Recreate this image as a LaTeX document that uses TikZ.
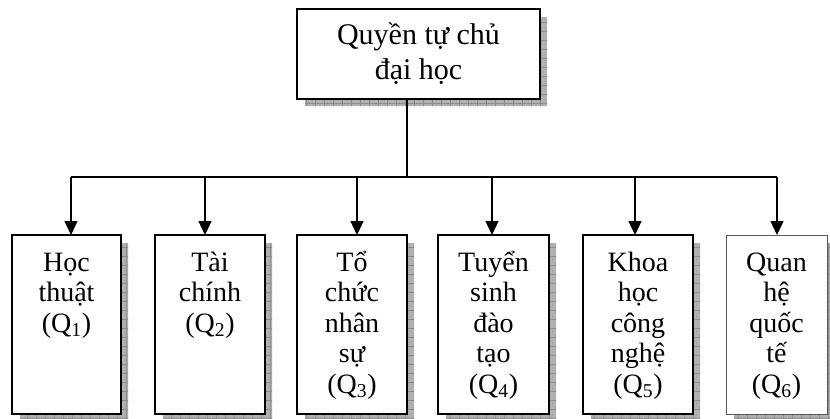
\documentclass[tikz,border=0pt]{standalone}
\usepackage{fontspec}
\setmainfont{Liberation Serif}
\usetikzlibrary{arrows.meta,backgrounds,patterns.meta}
\newcommand{\cellbox}[2]{\parbox[c][179pt][t]{#1}{\centering\fontsize{28}{30.5}\selectfont\rule{0pt}{36pt}#2}}
\tikzset{
  boxstyle/.style={draw=black, line width=1.5pt, fill=white, inner sep=0pt, outer sep=0pt},
  thinbox/.style={draw=black!65, line width=0.9pt, fill=white, inner sep=0pt, outer sep=0pt},
  conn/.style={line width=1.3pt, black},
  arr/.style={conn, -{Triangle[width=13pt,length=14pt]}},
  shadowfill/.style={fill=gray!62},
  shadowgrid/.style={pattern={Hatch[distance=9pt,line width=0.5pt]}, pattern color=gray!90}
}
\newcommand{\shadowpath}[1]{([shift={(0,8)}]#1.north east) -- ([shift={(7,8)}]#1.north east)
     -- ([shift={(7,7)}]#1.south east) -- ([shift={(8,7)}]#1.south west)
     -- ([shift={(8,0)}]#1.south west) -- (#1.south east) -- cycle}
\newcommand{\shadowof}[1]{%
  \fill[shadowfill] \shadowpath{#1};
  \fill[shadowgrid] \shadowpath{#1};}
\begin{document}
\begin{tikzpicture}[x=1pt,y=-1pt]
\useasboundingbox (0,0) rectangle (830,418);
% top box
\node[boxstyle, minimum width=243pt, minimum height=90pt, align=center,
      font=\fontsize{30}{35}\selectfont] (top) at (418.5,54) {Quyền tự chủ\\đại học};
% bottom boxes
\node[boxstyle, anchor=north] (b1) at (66.5,235) {\cellbox{109pt}{Học\\thuật\\(Q\textsubscript{1})}};
\node[boxstyle, anchor=north] (b2) at (210,235) {\cellbox{110pt}{Tài\\chính\\(Q\textsubscript{2})}};
\node[boxstyle, anchor=north] (b3) at (352,235) {\cellbox{110pt}{Tổ\\chức\\nhân\\sự\\(Q\textsubscript{3})}};
\node[boxstyle, anchor=north] (b4) at (493.5,235) {\cellbox{111pt}{Tuyển\\sinh\\đào\\tạo\\(Q\textsubscript{4})}};
\node[boxstyle, anchor=north] (b5) at (638,235) {\cellbox{110pt}{Khoa\\học\\công\\nghệ\\(Q\textsubscript{5})}};
\node[thinbox, anchor=north] (b6) at (776.5,235) {\cellbox{101pt}{Quan\\hệ\\quốc\\tế\\(Q\textsubscript{6})}};
% shadows
\begin{scope}[on background layer]
  \shadowof{top}
  \shadowof{b1}\shadowof{b2}\shadowof{b3}\shadowof{b4}\shadowof{b5}\shadowof{b6}
\end{scope}
% connectors
\coordinate (j) at (407,177);
\coordinate (h1) at (71,177);
\coordinate (h2) at (205,177);
\coordinate (h3) at (357,177);
\coordinate (h4) at (492,177);
\coordinate (h5) at (635,177);
\coordinate (h6) at (777,177);
\draw[conn] (j |- top.south) -- (j);
\draw[conn] (h1) -- (h6);
\draw[arr] (h1) -- (h1 |- b1.north);
\draw[arr] (h2) -- (h2 |- b2.north);
\draw[arr] (h3) -- (h3 |- b3.north);
\draw[arr] (h4) -- (h4 |- b4.north);
\draw[arr] (h5) -- (h5 |- b5.north);
\draw[arr] (h6) -- (h6 |- b6.north);
\end{tikzpicture}
\end{document}
